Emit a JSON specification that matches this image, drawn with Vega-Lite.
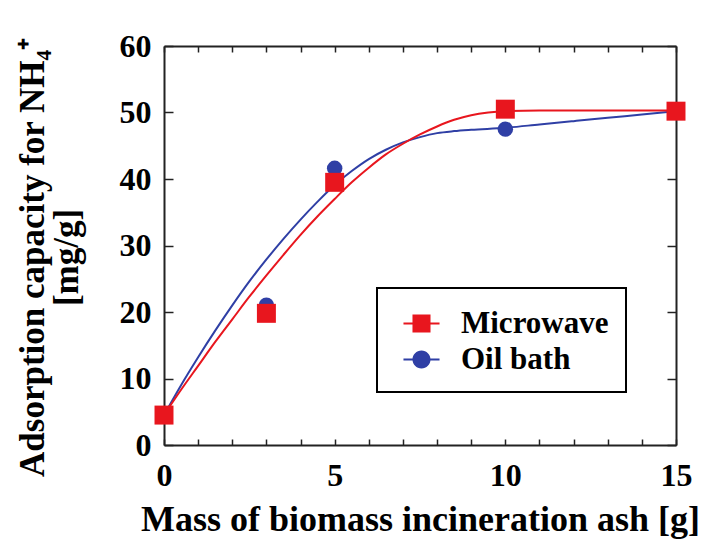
{
  "$schema": "https://vega.github.io/schema/vega-lite/v6.json",
  "autosize": {"type": "none"},
  "padding": {"left": 164, "top": 46, "right": 30, "bottom": 97},
  "width": 512,
  "height": 399,
  "background": "white",
  "config": {"view": {"stroke": null}, "font": "Liberation Serif"},
  "datasets": {
    "points": [
      {"series": "Oil bath", "x": 0, "y": 4.7},
      {"series": "Oil bath", "x": 3, "y": 21.0},
      {"series": "Oil bath", "x": 5, "y": 41.6},
      {"series": "Oil bath", "x": 10, "y": 47.5},
      {"series": "Oil bath", "x": 15, "y": 50.1},
      {"series": "Microwave", "x": 0, "y": 4.5},
      {"series": "Microwave", "x": 3, "y": 19.8},
      {"series": "Microwave", "x": 5, "y": 39.5},
      {"series": "Microwave", "x": 10, "y": 50.5},
      {"series": "Microwave", "x": 15, "y": 50.2}
    ],
    "curves": [
      {"series": "Oil bath", "x": 0, "y": 4.5},
      {"series": "Oil bath", "x": 0.5, "y": 9.0},
      {"series": "Oil bath", "x": 1, "y": 13.2},
      {"series": "Oil bath", "x": 1.5, "y": 17.2},
      {"series": "Oil bath", "x": 2, "y": 21.0},
      {"series": "Oil bath", "x": 2.5, "y": 24.6},
      {"series": "Oil bath", "x": 3, "y": 27.9},
      {"series": "Oil bath", "x": 3.5, "y": 31.0},
      {"series": "Oil bath", "x": 4, "y": 33.9},
      {"series": "Oil bath", "x": 4.5, "y": 36.6},
      {"series": "Oil bath", "x": 5, "y": 39.1},
      {"series": "Oil bath", "x": 5.5, "y": 41.2},
      {"series": "Oil bath", "x": 6, "y": 43.0},
      {"series": "Oil bath", "x": 6.5, "y": 44.4},
      {"series": "Oil bath", "x": 7, "y": 45.5},
      {"series": "Oil bath", "x": 7.5, "y": 46.3},
      {"series": "Oil bath", "x": 8, "y": 46.9},
      {"series": "Oil bath", "x": 8.5, "y": 47.2},
      {"series": "Oil bath", "x": 9, "y": 47.4},
      {"series": "Oil bath", "x": 10, "y": 47.7},
      {"series": "Oil bath", "x": 11, "y": 48.2},
      {"series": "Oil bath", "x": 12, "y": 48.7},
      {"series": "Oil bath", "x": 13, "y": 49.2},
      {"series": "Oil bath", "x": 14, "y": 49.7},
      {"series": "Oil bath", "x": 15, "y": 50.2},
      {"series": "Microwave", "x": 0, "y": 4.5},
      {"series": "Microwave", "x": 0.5, "y": 8.3},
      {"series": "Microwave", "x": 1, "y": 11.9},
      {"series": "Microwave", "x": 1.5, "y": 15.5},
      {"series": "Microwave", "x": 2, "y": 18.9},
      {"series": "Microwave", "x": 2.5, "y": 22.3},
      {"series": "Microwave", "x": 3, "y": 25.5},
      {"series": "Microwave", "x": 3.5, "y": 28.6},
      {"series": "Microwave", "x": 4, "y": 31.6},
      {"series": "Microwave", "x": 4.5, "y": 34.4},
      {"series": "Microwave", "x": 5, "y": 37.0},
      {"series": "Microwave", "x": 5.5, "y": 39.5},
      {"series": "Microwave", "x": 6, "y": 41.7},
      {"series": "Microwave", "x": 6.5, "y": 43.7},
      {"series": "Microwave", "x": 7, "y": 45.3},
      {"series": "Microwave", "x": 7.5, "y": 46.7},
      {"series": "Microwave", "x": 8, "y": 47.9},
      {"series": "Microwave", "x": 8.5, "y": 48.9},
      {"series": "Microwave", "x": 9, "y": 49.6},
      {"series": "Microwave", "x": 9.5, "y": 50.0},
      {"series": "Microwave", "x": 10, "y": 50.2},
      {"series": "Microwave", "x": 11, "y": 50.3},
      {"series": "Microwave", "x": 12, "y": 50.3},
      {"series": "Microwave", "x": 13, "y": 50.3},
      {"series": "Microwave", "x": 14, "y": 50.3},
      {"series": "Microwave", "x": 15, "y": 50.3}
    ]
  },
  "layer": [
    {
      "data": {"name": "curves"},
      "mark": {"type": "line", "strokeWidth": 2, "interpolate": "monotone"},
      "encoding": {
        "x": {"field": "x", "type": "quantitative", "scale": {"domain": [0, 15], "nice": false}, "axis": null},
        "y": {"field": "y", "type": "quantitative", "scale": {"domain": [0, 60], "nice": false}, "axis": null},
        "color": {"field": "series", "type": "nominal", "scale": {"domain": ["Microwave", "Oil bath"], "range": ["#e8161e", "#2f3fa5"]}},
        "detail": {"field": "series"}
      }
    },
    {
      "data": {"name": "points"},
      "transform": [{"filter": "datum.series === 'Oil bath'"}],
      "mark": {"type": "circle", "opacity": 1, "size": 240},
      "encoding": {
        "x": {"field": "x", "type": "quantitative", "scale": {"domain": [0, 15], "nice": false},
          "axis": {"orient": "bottom", "values": [0,1,2,3,4,5,6,7,8,9,10,11,12,13,14,15],
            "labelExpr": "datum.value % 5 === 0 ? datum.label : ''", "labelOverlap": false, "labelFlush": false,
            "tickSize": -6, "tickColor": "#222", "tickWidth": 1.5, "domainColor": "#222", "domainWidth": 2, "grid": false,
            "labelFontSize": 32, "labelFontWeight": "bold", "labelColor": "black", "labelPadding": 21,
            "title": "Mass of biomass incineration ash [g]", "titleFontSize": 36, "titleFontWeight": "bold", "titleColor": "black", "titlePadding": 11}},
        "y": {"field": "y", "type": "quantitative", "scale": {"domain": [0, 60], "nice": false},
          "axis": {"orient": "left", "values": [0,10,20,30,40,50,60], "labelOverlap": false, "labelFlush": false,
            "tickSize": -9, "tickColor": "#222", "tickWidth": 1.5, "domainColor": "#222", "domainWidth": 2, "grid": false,
            "labelFontSize": 32, "labelFontWeight": "bold", "labelColor": "black", "labelPadding": 22,
            "title": ["Adsorption capacity for NH₄⁺", "[mg/g]"], "titleFontSize": 35, "titleFontWeight": "bold", "titleColor": "black", "titlePadding": 35, "titleLineHeight": 34, "titleY": 211}},
        "color": {"field": "series", "type": "nominal", "scale": {"domain": ["Microwave", "Oil bath"], "range": ["#e8161e", "#2f3fa5"]},
          "legend": {"orient": "none", "legendX": 213, "legendY": 242, "title": null,
            "strokeColor": "black", "fillColor": "white", "padding": 17,
            "symbolSize": 1300, "symbolOffset": 9, "symbolStrokeWidth": 0, "symbolOpacity": 1,
            "labelFontSize": 31, "labelFontWeight": "bold", "labelColor": "black", "labelOffset": 21, "rowPadding": 2,
            "encode": {
              "legend": {"update": {"strokeWidth": {"value": 2}}},
              "symbols": {"update": {"shape": {"signal": "datum.value === 'Microwave' ? 'M-1,-0.05H1V0.05H-1Z M-0.5,-0.5H0.5V0.5H-0.5Z' : 'M-1,-0.05H1V0.05H-1Z M0.5,0A0.5,0.5 0 1 1 -0.5,0A0.5,0.5 0 1 1 0.5,0Z'"}, "strokeWidth": {"value": 0}, "opacity": {"value": 1}}}}}}
      }
    },
    {
      "data": {"name": "points"},
      "transform": [{"filter": "datum.series === 'Microwave'"}],
      "mark": {"type": "square", "opacity": 1, "size": 360},
      "encoding": {
        "x": {"field": "x", "type": "quantitative", "scale": {"domain": [0, 15], "nice": false}, "axis": null},
        "y": {"field": "y", "type": "quantitative", "scale": {"domain": [0, 60], "nice": false}, "axis": null},
        "color": {"field": "series", "type": "nominal", "scale": {"domain": ["Microwave", "Oil bath"], "range": ["#e8161e", "#2f3fa5"]}}
      }
    },
    {
      "data": {"name": "points"},
      "mark": {"type": "point", "opacity": 0},
      "encoding": {
        "x": {"field": "x", "type": "quantitative", "scale": {"domain": [0, 15], "nice": false},
          "axis": {"orient": "top", "values": [0,1,2,3,4,5,6,7,8,9,10,11,12,13,14,15], "labels": false, "title": null,
            "tickSize": -6, "tickColor": "#222", "tickWidth": 1.5, "domainColor": "#222", "domainWidth": 2, "grid": false}},
        "y": {"field": "y", "type": "quantitative", "scale": {"domain": [0, 60], "nice": false},
          "axis": {"orient": "right", "values": [0,10,20,30,40,50,60], "labels": false, "title": null,
            "tickSize": -9, "tickColor": "#222", "tickWidth": 1.5, "domainColor": "#222", "domainWidth": 2, "grid": false}}
      }
    }
  ],
  "resolve": {"axis": {"x": "independent", "y": "independent"}}
}
